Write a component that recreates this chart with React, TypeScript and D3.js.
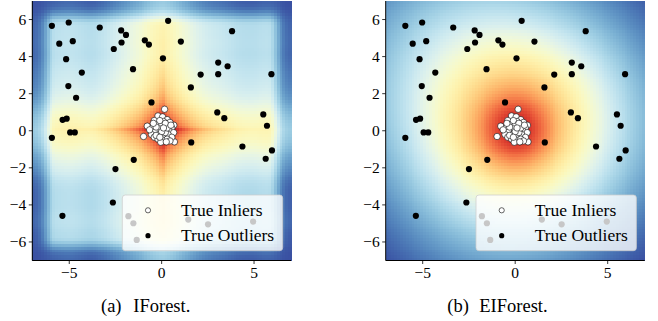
import React, { useMemo } from "react";
import * as d3 from "d3";

// ---- data ----
const inlierX = [-0.98, -0.78, 0.16, 0.69, 0.66, -0.2, 0.05, 0.3, -0.4, 0.1, 0.45, -0.25, 0.0, 0.25, -0.5, 0.55, -0.1, 0.15, 0.4, -0.35, 0.65, -0.55, -0.15, 0.1, 0.35, 0.55, -0.4, -0.2, 0.05, 0.3, -0.05, 0.2, -0.3, 0.3, 0.0, -0.1, 0.2, -0.45, 0.45, -0.3, 0.5, -0.65, 0.1, -0.1, 0.25];
const inlierY = [-0.31, 0.25, 1.16, -0.6, 0.3, 0.8, 0.75, 0.6, 0.55, 0.5, 0.45, 0.35, 0.3, 0.28, 0.15, 0.15, 0.1, 0.05, 0.0, -0.05, -0.1, -0.2, -0.2, -0.25, -0.2, -0.35, -0.35, -0.45, -0.5, -0.45, -0.62, -0.1, 0.2, 0.15, -0.05, 0.55, 0.4, 0.4, -0.55, -0.25, 0.3, 0.05, 0.15, -0.35, -0.6];

const outlierX = [-5.94, -5.03, -3.35, 0.35, -2.19, -1.93, 3.81, -5.54, -4.81, -2.17, -2.59, -0.91, -0.69, 1.04, -5.17, 0.07, 3.06, 3.57, -4.32, -1.55, 2.11, 3.06, 5.94, -5.05, 1.58, -4.63, -0.55, 3.01, 3.39, 5.5, -5.36, -5.14, 5.7, -5.94, -4.95, -4.7, 1.6, 4.37, -1.51, 5.63, 5.97, -2.5, -2.64, -5.37, -1.8, -1.53, -1.35, 1.44, 2.51, 4.95];
const outlierY = [5.66, 5.84, 5.57, 5.93, 5.41, 5.17, 5.37, 4.7, 4.83, 4.76, 4.41, 4.88, 4.65, 4.81, 3.86, 3.91, 3.68, 3.48, 3.14, 3.32, 3.03, 3.05, 3.05, 2.41, 2.34, 1.78, 1.53, 0.99, 0.68, 0.88, 0.59, 0.65, 0.27, -0.38, -0.09, -0.09, -0.63, -0.85, -1.57, -1.51, -1.06, -2.07, -3.87, -4.59, -4.61, -4.99, -5.89, -4.79, -5.05, -4.9];

const xTicks = [-5, 0, 5];
const yTicks = [-6, -4, -2, 0, 2, 4, 6];
const panelLabels = ["(a)", "(b)"];
const panelNames = ["IForest.", "EIForest."];
const legendLabels = ["True Inliers", "True Outliers"];

const W = 658;
const H = 321;
const FONT = "'Liberation Serif', 'Times New Roman', serif";
const GRID = 90;
const DOMAIN: [number, number] = [-7, 7];

const fmt = (v: number) => (v < 0 ? "\u2212" + Math.abs(v) : String(v));

const allX = [...inlierX, ...outlierX];
const allY = [...inlierY, ...outlierY];
const cX = d3.mean(inlierX) as number;
const cY = d3.mean(inlierY) as number;
const [minX, maxX] = d3.extent(allX) as [number, number];
const [minY, maxY] = d3.extent(allY) as [number, number];

function kern1(vals: number[], v: number, s: number) {
  let k = 0;
  for (const a of vals) k += Math.exp(-((a - v) ** 2) / (2 * s * s));
  return k;
}
function kern2(xs: number[], ys: number[], x: number, y: number, s: number) {
  let k = 0;
  for (let i = 0; i < xs.length; i++) {
    const d2 = (xs[i] - x) ** 2 + (ys[i] - y) ** 2;
    k += Math.exp(-d2 / (2 * s * s));
  }
  return k;
}
const kxMax = kern1(allX, cX, 0.35);
const kyMax = kern1(allY, cY, 0.35);
const axMax = kern1(inlierX, cX, 1.6);
const ayMax = kern1(inlierY, cY, 1.6);
const inRange = (v: number, lo: number, hi: number) => {
  const d = Math.max(0, lo - v + 0.2, v - hi + 0.2);
  return Math.exp(-((d / 0.6) ** 2));
};

// isolation-forest-like depth: axis-aligned (marginal) structure
function scoreIF(x: number, y: number) {
  const fx = Math.log(1 + kern1(allX, x, 0.35)) / Math.log(1 + kxMax);
  const fy = Math.log(1 + kern1(allY, y, 0.35)) / Math.log(1 + kyMax);
  const ax = kern1(inlierX, x, 1.6) / axMax;
  const ay = kern1(inlierY, y, 1.6) / ayMax;
  const rp = (Math.sqrt(Math.abs(x - cX)) + Math.sqrt(Math.abs(y - cY))) ** 2;
  return (
    0.04 +
    0.225 * inRange(x, minX, maxX) * inRange(y, minY, maxY) +
    0.06 * (fx + fy) +
    0.16 * (ax + ay) +
    0.42 * Math.exp(-rp / 1.9)
  );
}
const e1Max = kern2(allX, allY, cX, cY, 3);
const e2Max = kern2(inlierX, inlierY, cX, cY, 1.2);
// extended isolation forest: smooth, rotation-free structure
function scoreEI(x: number, y: number) {
  const e1 = Math.min(1, kern2(allX, allY, x, y, 3) / e1Max);
  const e2 = Math.min(1, kern2(inlierX, inlierY, x, y, 1.2) / e2Max);
  return 0.8 * Math.pow(e1, 0.55) - 0.08 + 0.22 * e2;
}

type Cell = { x: number; y: number; v: number };
function buildGrid(fn: (x: number, y: number) => number): Cell[] {
  const step = (DOMAIN[1] - DOMAIN[0]) / GRID;
  const out: Cell[] = [];
  for (let i = 0; i < GRID; i++) {
    for (let j = 0; j < GRID; j++) {
      const x = DOMAIN[0] + i * step;
      const y = DOMAIN[0] + j * step;
      out.push({ x, y, v: Math.max(0.02, Math.min(0.93, fn(x + step / 2, y + step / 2))) });
    }
  }
  return out;
}

const panels = [
  { x0: 32.3, x1: 291, capX: [101, 133.3], legX: 122.3, fn: scoreIF },
  { x0: 385.7, x1: 644.7, capX: [447.3, 479.3], legX: 476, fn: scoreEI },
];

function Panel({ p, idx }: { p: (typeof panels)[number]; idx: number }) {
  const xs = d3.scaleLinear().domain(DOMAIN).range([p.x0, p.x1]);
  const ys = d3.scaleLinear().domain(DOMAIN).range([260.5, 1]);
  const cells = useMemo(() => buildGrid(p.fn), [p]);
  const step = (DOMAIN[1] - DOMAIN[0]) / GRID;
  const cw = xs(step) - xs(0);
  const ch = ys(0) - ys(step);
  const color = (v: number) => d3.interpolateRdYlBu(1 - v);
  const bottom = ys(DOMAIN[0]);
  const top = ys(DOMAIN[1]);
  const legW = 160.4;
  return (
    <g>
      <g shapeRendering="crispEdges">
        {cells.map((c, k) => (
          <rect key={k} x={xs(c.x)} y={ys(c.y + step)} width={cw + 0.6} height={ch + 0.6} fill={color(c.v)} />
        ))}
      </g>
      {outlierX.map((x, i) => (
        <circle key={"o" + i} cx={xs(x)} cy={ys(outlierY[i])} r={3.1} fill="#000" />
      ))}
      {inlierX.map((x, i) => (
        <circle key={"i" + i} cx={xs(x)} cy={ys(inlierY[i])} r={3.2} fill="#fff" stroke="#000" strokeWidth={0.6} />
      ))}
      {/* axes */}
      <line x1={p.x0} x2={p.x0} y1={top} y2={bottom} stroke="#000" strokeWidth={1} />
      <line x1={p.x0} x2={p.x1} y1={bottom} y2={bottom} stroke="#000" strokeWidth={1} />
      {yTicks.map((t) => (
        <g key={"y" + t}>
          <line x1={p.x0 - 3.5} x2={p.x0} y1={ys(t)} y2={ys(t)} stroke="#000" strokeWidth={0.8} />
          <text x={p.x0 - 6} y={ys(t)} dy="0.35em" textAnchor="end" fontFamily={FONT} fontSize={15.5} fill="#000">
            {fmt(t)}
          </text>
        </g>
      ))}
      {xTicks.map((t) => (
        <g key={"x" + t}>
          <line x1={xs(t)} x2={xs(t)} y1={bottom} y2={bottom + 3.5} stroke="#000" strokeWidth={0.8} />
          <text x={xs(t)} y={277.5} textAnchor="middle" fontFamily={FONT} fontSize={15.5} fill="#000">
            {fmt(t)}
          </text>
        </g>
      ))}
      {/* legend */}
      <rect x={p.legX} y={195} width={legW} height={55.7} rx={3} fill="#fff" fillOpacity={0.78} stroke="#cccccc" strokeOpacity={0.9} strokeWidth={0.8} />
      <circle cx={p.legX + 25.7} cy={210.3} r={2.6} fill="#fff" stroke="#000" strokeWidth={0.6} />
      <circle cx={p.legX + 25.7} cy={235.7} r={2.6} fill="#000" />
      <text x={p.legX + 58.7} y={216} fontFamily={FONT} fontSize={17.5} fill="#000">{legendLabels[0]}</text>
      <text x={p.legX + 58.7} y={240.7} fontFamily={FONT} fontSize={17.5} fill="#000">{legendLabels[1]}</text>
      {/* caption */}
      <text y={311.5} fontFamily={FONT} fontSize={18.5} fill="#000">
        <tspan x={p.capX[0]}>{panelLabels[idx]}</tspan>
        <tspan x={p.capX[1]}>{panelNames[idx]}</tspan>
      </text>
    </g>
  );
}

export default function App() {
  return (
    <svg width={W} height={H} style={{ position: "absolute", left: 0, top: 0, background: "#fff" }}>
      {panels.map((p, i) => (
        <Panel key={i} p={p} idx={i} />
      ))}
    </svg>
  );
}
